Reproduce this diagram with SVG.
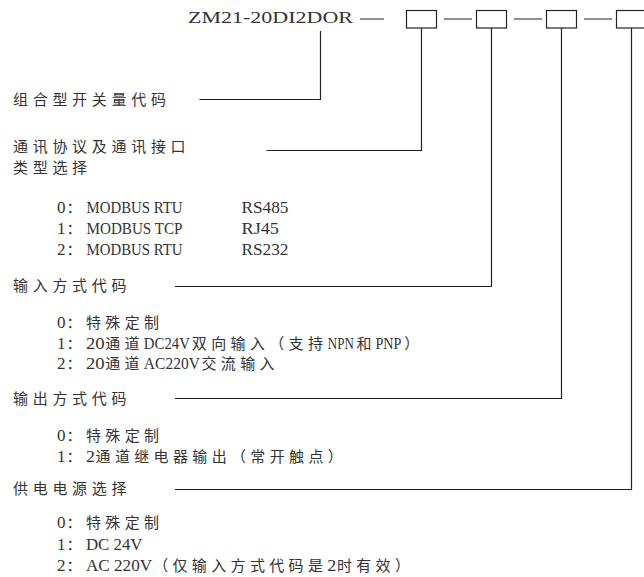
<svg xmlns="http://www.w3.org/2000/svg" width="644" height="577" viewBox="0 0 644 577">
<style>
text{fill:#333;font-family:"Liberation Serif","Noto Sans CJK SC",serif;font-size:17px}
.c{font-family:"Noto Sans CJK SC",sans-serif;font-size:15px}
.h{font-family:"Noto Sans CJK SC",sans-serif;font-size:15px;letter-spacing:4.7px}
.ln{stroke:#222;stroke-width:1.2;fill:none}
.box{stroke:#222;stroke-width:1.2;fill:#fff}
</style>
<rect width="644" height="577" fill="#fff"/>
<g id="code"><text x="188" y="22.7" font-size="19.5" textLength="165" lengthAdjust="spacingAndGlyphs">ZM21-20DI2DOR</text></g>
<g id="box1"><rect class="box" x="406.5" y="10.5" width="30" height="17.5"/></g>
<g id="box2"><rect class="box" x="476.5" y="10.5" width="30" height="17.5"/></g>
<g id="box3"><rect class="box" x="546.5" y="10.5" width="30" height="17.5"/></g>
<g id="box4"><rect class="box" x="616.5" y="10.5" width="30" height="17.5"/></g>
<g id="connectors">
<path class="ln" d="M360 19H384M444 19H472M514 19H542M584 19H612"/>
<path class="ln" d="M199.5 99.5H320.5V31"/>
<path class="ln" d="M266.5 150.5H421.5V28"/>
<path class="ln" d="M175 286.5H491.5V28"/>
<path class="ln" d="M175 398.5H561.5V28"/>
<path class="ln" d="M175 489.5H631.5V28"/>
</g>
<g id="label-code"><text class="h" x="13" y="104.5">组合型开关量代码</text></g>
<g id="label-comm">
<text class="h" x="13" y="152">通讯协议及通讯接口</text>
<text class="h" x="13" y="173">类型选择</text>
<text x="57" y="212.5">0</text><text class="c" x="66.6" y="212.5">：</text>
<text x="86.5" y="212.5" textLength="96" lengthAdjust="spacingAndGlyphs">MODBUS RTU</text>
<text x="241.5" y="212.5" textLength="47" lengthAdjust="spacingAndGlyphs">RS485</text>
<text x="57" y="233.5">1</text><text class="c" x="66.6" y="233.5">：</text>
<text x="86.5" y="233.5" textLength="96" lengthAdjust="spacingAndGlyphs">MODBUS TCP</text>
<text x="241.5" y="233.5" textLength="37.5" lengthAdjust="spacingAndGlyphs">RJ45</text>
<text x="57" y="255">2</text><text class="c" x="66.6" y="255">：</text>
<text x="86.5" y="255" textLength="96" lengthAdjust="spacingAndGlyphs">MODBUS RTU</text>
<text x="241.5" y="255" textLength="47" lengthAdjust="spacingAndGlyphs">RS232</text>
</g>
<g id="label-input">
<text class="h" x="13" y="290.5">输入方式代码</text>
<text x="57" y="328">0</text><text class="c" x="66.6 85.95 105.3 124.65 144" y="328">：特殊定制</text>
<text x="57" y="348.5">1</text><text class="c" x="66.6" y="348.5">：</text>
<text x="85.95" y="348.5" textLength="18.6" lengthAdjust="spacingAndGlyphs">20</text>
<text class="c" x="105.15 124.5" y="348.5">通道</text>
<text x="143.85" y="348.5" textLength="46" lengthAdjust="spacingAndGlyphs">DC24V</text>
<text class="c" x="191.85 211.2 230.55 249.9 269.25 288.6 307.95" y="348.5">双向输入（支持</text>
<text x="327.8" y="348.5" textLength="26" lengthAdjust="spacingAndGlyphs">NPN</text>
<text class="c" x="356.6" y="348.5">和</text>
<text x="375.45" y="348.5" textLength="26" lengthAdjust="spacingAndGlyphs">PNP</text>
<text class="c" x="404.25" y="348.5">）</text>
<text x="57" y="369">2</text><text class="c" x="66.6" y="369">：</text>
<text x="85.95" y="369" textLength="18.6" lengthAdjust="spacingAndGlyphs">20</text>
<text class="c" x="105.15 124.5" y="369">通道</text>
<text x="143.85" y="369" textLength="56" lengthAdjust="spacingAndGlyphs">AC220V</text>
<text class="c" x="201.45 220.8 240.15 259.5" y="369">交流输入</text>
</g>
<g id="label-output">
<text class="h" x="13" y="403.5">输出方式代码</text>
<text x="57" y="440.5">0</text><text class="c" x="66.6 85.95 105.3 124.65 144" y="440.5">：特殊定制</text>
<text x="57" y="461.5">1</text><text class="c" x="66.6" y="461.5">：</text>
<text x="85.95" y="461.5" textLength="9" lengthAdjust="spacingAndGlyphs">2</text>
<text class="c" x="95.55 114.9 134.25 153.6 172.95 192.3 211.65 231 250.35 269.7 289.05 308.4 327.75" y="461.5">通道继电器输出（常开触点）</text>
</g>
<g id="label-power">
<text class="h" x="13" y="493.5">供电电源选择</text>
<text x="57" y="528">0</text><text class="c" x="66.6 85.95 105.3 124.65 144" y="528">：特殊定制</text>
<text x="57" y="549.5">1</text><text class="c" x="66.6" y="549.5">：</text>
<text x="85.95" y="549.5" textLength="56.6" lengthAdjust="spacingAndGlyphs">DC 24V</text>
<text x="57" y="570.5">2</text><text class="c" x="66.6" y="570.5">：</text>
<text x="85.95" y="570.5" textLength="66.2" lengthAdjust="spacingAndGlyphs">AC 220V</text>
<text class="c" x="153.15 172.5 191.85 211.2 230.55 249.9 269.25 288.6 307.95" y="570.5">（仅输入方式代码是</text>
<text x="327.3" y="570.5" textLength="9" lengthAdjust="spacingAndGlyphs">2</text>
<text class="c" x="336.9 356.25 375.6 394.95" y="570.5">时有效）</text>
</g>
</svg>
